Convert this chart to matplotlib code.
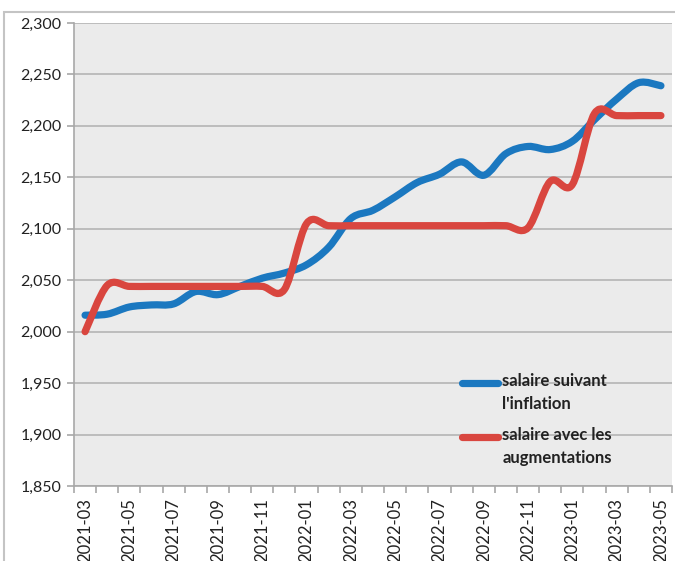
import matplotlib
matplotlib.use("Agg")
import matplotlib.pyplot as plt
import numpy as np
from matplotlib.path import Path
from matplotlib.patches import PathPatch, Rectangle

# ******************************************************************************
# Data
# ******************************************************************************
months = ["2021-03", "2021-04", "2021-05", "2021-06", "2021-07", "2021-08",
          "2021-09", "2021-10", "2021-11", "2021-12", "2022-01", "2022-02",
          "2022-03", "2022-04", "2022-05", "2022-06", "2022-07", "2022-08",
          "2022-09", "2022-10", "2022-11", "2022-12", "2023-01", "2023-02",
          "2023-03", "2023-04", "2023-05"]

salaire_inflation = [2016, 2017, 2024, 2026, 2027, 2039, 2036, 2044, 2052, 2057,
                     2065, 2082, 2110, 2118, 2131, 2145, 2153, 2165, 2152, 2173,
                     2180, 2177, 2185, 2206, 2226, 2242, 2239]

salaire_augment = [2000, 2045, 2044, 2044, 2044, 2044, 2044, 2044, 2044, 2041,
                   2105, 2103, 2103, 2103, 2103, 2103, 2103, 2103, 2103, 2103,
                   2101, 2146, 2143, 2212, 2210, 2210, 2210]

labels = ["salaire suivant\nl'inflation", "salaire avec les\naugmentations"]
colors = ["#1b78c0", "#d9463f"]

y_ticks = [1850, 1900, 1950, 2000, 2050, 2100, 2150, 2200, 2250, 2300]

plt.rcParams['font.family'] = ['Lato', 'DejaVu Sans']
TXT = "#222222"


def smooth_path(xs, ys):
    # excel-like smoothed line: cubic bezier through every point
    pts = np.column_stack([xs, ys]).astype(float)
    n = len(pts)
    verts = [pts[0]]
    codes = [Path.MOVETO]
    for i in range(n - 1):
        p0 = pts[max(i - 1, 0)]
        p1 = pts[i]
        p2 = pts[i + 1]
        p3 = pts[min(i + 2, n - 1)]
        c1 = p1 + (p2 - p0) / 6.0
        c2 = p2 - (p3 - p1) / 6.0
        verts += [c1, c2, p2]
        codes += [Path.CURVE4] * 3
    return Path(verts, codes)


fig = plt.figure(figsize=(6.75, 5.61), dpi=100)
ax = fig.add_axes([74/675, 1 - 486/561, 598/675, 463/561])
ax.set_facecolor("#ebebeb")

x = np.arange(len(months))
for series, c in zip([salaire_inflation, salaire_augment], colors):
    patch = PathPatch(smooth_path(x, series), fill=False, edgecolor=c,
                      linewidth=5.2, capstyle='round', joinstyle='round', zorder=3)
    ax.add_patch(patch)

ax.set_xlim(-0.5, len(months) - 0.5)
ax.set_ylim(1850, 2300)

ax.set_yticks(y_ticks)
ax.set_yticklabels(["{:,}".format(v) for v in y_ticks], fontsize=11.5, color=TXT)
ax.yaxis.grid(True, color="#b4b4b4", linewidth=1.2)
ax.set_axisbelow(True)

ax.set_xticks(x[::2])
ax.set_xticklabels(months[::2], rotation=90, fontsize=12, color=TXT)
ax.set_xticks(np.arange(-0.5, len(months)), minor=True)
ax.tick_params(axis='x', which='major', length=0, pad=9)
ax.tick_params(axis='x', which='minor', length=5, color="#a8a8a8", width=1.2)
ax.tick_params(axis='y', length=5, color="#a8a8a8", width=1.2, pad=4)

for s in ['top', 'right']:
    ax.spines[s].set_visible(False)
for s in ['left', 'bottom']:
    ax.spines[s].set_color("#a8a8a8")
    ax.spines[s].set_linewidth(1.2)

# legend, drawn by hand so the key sits on the first line of each label
leg_y = [0.2225, 0.106]
for lab, c, yy in zip(labels, colors, leg_y):
    ax.plot([0.648, 0.709], [yy, yy], transform=ax.transAxes, color=c,
            linewidth=5.2, solid_capstyle='round', zorder=4)
    ax.text(0.716, yy + 0.021, lab, transform=ax.transAxes, va='top', ha='left',
            fontsize=12, fontweight='bold', color=TXT, linespacing=1.5)

# chart frame
fig.patches.append(Rectangle((4/675, -0.1), 1.0, (561 - 12)/561 + 0.1,
                             transform=fig.transFigure, fill=False,
                             edgecolor="#c4c4c4", linewidth=1.5))

fig.savefig("out.png", dpi=100)
